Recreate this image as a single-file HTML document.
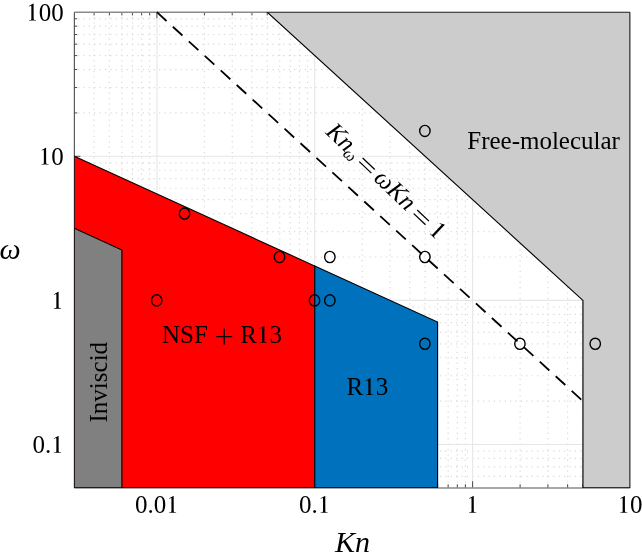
<!DOCTYPE html>
<html><head><meta charset="utf-8"><style>
html,body{margin:0;padding:0;background:#fff;font-family:"Liberation Serif",serif;}
svg{display:block;will-change:transform;}
</style></head><body>
<svg width="642" height="560" viewBox="0 0 642 560" font-family="Liberation Serif">
<defs><path id="one" d="M296 676L282 676L111 578L111 562L136 572Q176 588 192 588Q206 588 206 560L206 70Q206 28 176 24L111 20L111 0L394 0L394 20L330 24Q298 28 298 70Z"/></defs>
<rect width="642" height="560" fill="#fff"/>
<g stroke="#d8d8d8" stroke-width="1.2" stroke-dasharray="1.2 4.2"><line x1="94.09" y1="12.20" x2="94.09" y2="487.88" stroke-dashoffset="0.6"/><line x1="109.38" y1="12.20" x2="109.38" y2="487.88" stroke-dashoffset="0.6"/><line x1="121.88" y1="12.20" x2="121.88" y2="487.88" stroke-dashoffset="0.6"/><line x1="132.45" y1="12.20" x2="132.45" y2="487.88" stroke-dashoffset="0.6"/><line x1="141.60" y1="12.20" x2="141.60" y2="487.88" stroke-dashoffset="0.6"/><line x1="149.68" y1="12.20" x2="149.68" y2="487.88" stroke-dashoffset="0.6"/><line x1="204.42" y1="12.20" x2="204.42" y2="487.88" stroke-dashoffset="0.6"/><line x1="232.21" y1="12.20" x2="232.21" y2="487.88" stroke-dashoffset="0.6"/><line x1="251.94" y1="12.20" x2="251.94" y2="487.88" stroke-dashoffset="0.6"/><line x1="267.23" y1="12.20" x2="267.23" y2="487.88" stroke-dashoffset="0.6"/><line x1="279.73" y1="12.20" x2="279.73" y2="487.88" stroke-dashoffset="0.6"/><line x1="290.30" y1="12.20" x2="290.30" y2="487.88" stroke-dashoffset="0.6"/><line x1="299.45" y1="12.20" x2="299.45" y2="487.88" stroke-dashoffset="0.6"/><line x1="307.53" y1="12.20" x2="307.53" y2="487.88" stroke-dashoffset="0.6"/><line x1="362.27" y1="12.20" x2="362.27" y2="487.88" stroke-dashoffset="0.6"/><line x1="390.06" y1="12.20" x2="390.06" y2="487.88" stroke-dashoffset="0.6"/><line x1="409.79" y1="12.20" x2="409.79" y2="487.88" stroke-dashoffset="0.6"/><line x1="425.08" y1="12.20" x2="425.08" y2="487.88" stroke-dashoffset="0.6"/><line x1="437.58" y1="12.20" x2="437.58" y2="487.88" stroke-dashoffset="0.6"/><line x1="448.15" y1="12.20" x2="448.15" y2="487.88" stroke-dashoffset="0.6"/><line x1="457.30" y1="12.20" x2="457.30" y2="487.88" stroke-dashoffset="0.6"/><line x1="465.38" y1="12.20" x2="465.38" y2="487.88" stroke-dashoffset="0.6"/><line x1="520.12" y1="12.20" x2="520.12" y2="487.88" stroke-dashoffset="0.6"/><line x1="547.91" y1="12.20" x2="547.91" y2="487.88" stroke-dashoffset="0.6"/><line x1="567.64" y1="12.20" x2="567.64" y2="487.88" stroke-dashoffset="0.6"/><line x1="582.93" y1="12.20" x2="582.93" y2="487.88" stroke-dashoffset="0.6"/><line x1="595.43" y1="12.20" x2="595.43" y2="487.88" stroke-dashoffset="0.6"/><line x1="606.00" y1="12.20" x2="606.00" y2="487.88" stroke-dashoffset="0.6"/><line x1="615.15" y1="12.20" x2="615.15" y2="487.88" stroke-dashoffset="0.6"/><line x1="623.23" y1="12.20" x2="623.23" y2="487.88" stroke-dashoffset="0.6"/><line x1="74.36" y1="476.47" x2="630.00" y2="476.47" stroke-dashoffset="1.7"/><line x1="74.36" y1="466.82" x2="630.00" y2="466.82" stroke-dashoffset="1.7"/><line x1="74.36" y1="458.46" x2="630.00" y2="458.46" stroke-dashoffset="1.7"/><line x1="74.36" y1="451.09" x2="630.00" y2="451.09" stroke-dashoffset="1.7"/><line x1="74.36" y1="401.12" x2="630.00" y2="401.12" stroke-dashoffset="1.7"/><line x1="74.36" y1="375.75" x2="630.00" y2="375.75" stroke-dashoffset="1.7"/><line x1="74.36" y1="357.74" x2="630.00" y2="357.74" stroke-dashoffset="1.7"/><line x1="74.36" y1="343.78" x2="630.00" y2="343.78" stroke-dashoffset="1.7"/><line x1="74.36" y1="332.37" x2="630.00" y2="332.37" stroke-dashoffset="1.7"/><line x1="74.36" y1="322.72" x2="630.00" y2="322.72" stroke-dashoffset="1.7"/><line x1="74.36" y1="314.36" x2="630.00" y2="314.36" stroke-dashoffset="1.7"/><line x1="74.36" y1="306.99" x2="630.00" y2="306.99" stroke-dashoffset="1.7"/><line x1="74.36" y1="257.02" x2="630.00" y2="257.02" stroke-dashoffset="1.7"/><line x1="74.36" y1="231.65" x2="630.00" y2="231.65" stroke-dashoffset="1.7"/><line x1="74.36" y1="213.64" x2="630.00" y2="213.64" stroke-dashoffset="1.7"/><line x1="74.36" y1="199.68" x2="630.00" y2="199.68" stroke-dashoffset="1.7"/><line x1="74.36" y1="188.27" x2="630.00" y2="188.27" stroke-dashoffset="1.7"/><line x1="74.36" y1="178.62" x2="630.00" y2="178.62" stroke-dashoffset="1.7"/><line x1="74.36" y1="170.26" x2="630.00" y2="170.26" stroke-dashoffset="1.7"/><line x1="74.36" y1="162.89" x2="630.00" y2="162.89" stroke-dashoffset="1.7"/><line x1="74.36" y1="112.92" x2="630.00" y2="112.92" stroke-dashoffset="1.7"/><line x1="74.36" y1="87.55" x2="630.00" y2="87.55" stroke-dashoffset="1.7"/><line x1="74.36" y1="69.54" x2="630.00" y2="69.54" stroke-dashoffset="1.7"/><line x1="74.36" y1="55.58" x2="630.00" y2="55.58" stroke-dashoffset="1.7"/><line x1="74.36" y1="44.17" x2="630.00" y2="44.17" stroke-dashoffset="1.7"/><line x1="74.36" y1="34.52" x2="630.00" y2="34.52" stroke-dashoffset="1.7"/><line x1="74.36" y1="26.16" x2="630.00" y2="26.16" stroke-dashoffset="1.7"/><line x1="74.36" y1="18.79" x2="630.00" y2="18.79" stroke-dashoffset="1.7"/></g>
<g stroke="#e6e6e6" stroke-width="1.1"><line x1="156.90" y1="12.20" x2="156.90" y2="487.88"/><line x1="314.75" y1="12.20" x2="314.75" y2="487.88"/><line x1="472.60" y1="12.20" x2="472.60" y2="487.88"/><line x1="74.36" y1="444.50" x2="630.00" y2="444.50"/><line x1="74.36" y1="300.40" x2="630.00" y2="300.40"/><line x1="74.36" y1="156.30" x2="630.00" y2="156.30"/></g>
<g stroke="#333" stroke-width="0.9"><line x1="94.09" y1="12.20" x2="94.09" y2="15.40"/><line x1="94.09" y1="487.88" x2="94.09" y2="484.28"/><line x1="109.38" y1="12.20" x2="109.38" y2="15.40"/><line x1="109.38" y1="487.88" x2="109.38" y2="484.28"/><line x1="121.88" y1="12.20" x2="121.88" y2="15.40"/><line x1="121.88" y1="487.88" x2="121.88" y2="484.28"/><line x1="132.45" y1="12.20" x2="132.45" y2="15.40"/><line x1="132.45" y1="487.88" x2="132.45" y2="484.28"/><line x1="141.60" y1="12.20" x2="141.60" y2="15.40"/><line x1="141.60" y1="487.88" x2="141.60" y2="484.28"/><line x1="149.68" y1="12.20" x2="149.68" y2="15.40"/><line x1="149.68" y1="487.88" x2="149.68" y2="484.28"/><line x1="204.42" y1="12.20" x2="204.42" y2="15.40"/><line x1="204.42" y1="487.88" x2="204.42" y2="484.28"/><line x1="232.21" y1="12.20" x2="232.21" y2="15.40"/><line x1="232.21" y1="487.88" x2="232.21" y2="484.28"/><line x1="251.94" y1="12.20" x2="251.94" y2="15.40"/><line x1="251.94" y1="487.88" x2="251.94" y2="484.28"/><line x1="267.23" y1="12.20" x2="267.23" y2="15.40"/><line x1="267.23" y1="487.88" x2="267.23" y2="484.28"/><line x1="279.73" y1="12.20" x2="279.73" y2="15.40"/><line x1="279.73" y1="487.88" x2="279.73" y2="484.28"/><line x1="290.30" y1="12.20" x2="290.30" y2="15.40"/><line x1="290.30" y1="487.88" x2="290.30" y2="484.28"/><line x1="299.45" y1="12.20" x2="299.45" y2="15.40"/><line x1="299.45" y1="487.88" x2="299.45" y2="484.28"/><line x1="307.53" y1="12.20" x2="307.53" y2="15.40"/><line x1="307.53" y1="487.88" x2="307.53" y2="484.28"/><line x1="362.27" y1="12.20" x2="362.27" y2="15.40"/><line x1="362.27" y1="487.88" x2="362.27" y2="484.28"/><line x1="390.06" y1="12.20" x2="390.06" y2="15.40"/><line x1="390.06" y1="487.88" x2="390.06" y2="484.28"/><line x1="409.79" y1="12.20" x2="409.79" y2="15.40"/><line x1="409.79" y1="487.88" x2="409.79" y2="484.28"/><line x1="425.08" y1="12.20" x2="425.08" y2="15.40"/><line x1="425.08" y1="487.88" x2="425.08" y2="484.28"/><line x1="437.58" y1="12.20" x2="437.58" y2="15.40"/><line x1="437.58" y1="487.88" x2="437.58" y2="484.28"/><line x1="448.15" y1="12.20" x2="448.15" y2="15.40"/><line x1="448.15" y1="487.88" x2="448.15" y2="484.28"/><line x1="457.30" y1="12.20" x2="457.30" y2="15.40"/><line x1="457.30" y1="487.88" x2="457.30" y2="484.28"/><line x1="465.38" y1="12.20" x2="465.38" y2="15.40"/><line x1="465.38" y1="487.88" x2="465.38" y2="484.28"/><line x1="520.12" y1="12.20" x2="520.12" y2="15.40"/><line x1="520.12" y1="487.88" x2="520.12" y2="484.28"/><line x1="547.91" y1="12.20" x2="547.91" y2="15.40"/><line x1="547.91" y1="487.88" x2="547.91" y2="484.28"/><line x1="567.64" y1="12.20" x2="567.64" y2="15.40"/><line x1="567.64" y1="487.88" x2="567.64" y2="484.28"/><line x1="582.93" y1="12.20" x2="582.93" y2="15.40"/><line x1="582.93" y1="487.88" x2="582.93" y2="484.28"/><line x1="595.43" y1="12.20" x2="595.43" y2="15.40"/><line x1="595.43" y1="487.88" x2="595.43" y2="484.28"/><line x1="606.00" y1="12.20" x2="606.00" y2="15.40"/><line x1="606.00" y1="487.88" x2="606.00" y2="484.28"/><line x1="615.15" y1="12.20" x2="615.15" y2="15.40"/><line x1="615.15" y1="487.88" x2="615.15" y2="484.28"/><line x1="623.23" y1="12.20" x2="623.23" y2="15.40"/><line x1="623.23" y1="487.88" x2="623.23" y2="484.28"/><line x1="156.90" y1="12.20" x2="156.90" y2="18.20"/><line x1="156.90" y1="487.88" x2="156.90" y2="481.28"/><line x1="314.75" y1="12.20" x2="314.75" y2="18.20"/><line x1="314.75" y1="487.88" x2="314.75" y2="481.28"/><line x1="472.60" y1="12.20" x2="472.60" y2="18.20"/><line x1="472.60" y1="487.88" x2="472.60" y2="481.28"/><line x1="74.36" y1="476.47" x2="77.16" y2="476.47"/><line x1="630.00" y1="476.47" x2="627.20" y2="476.47"/><line x1="74.36" y1="466.82" x2="77.16" y2="466.82"/><line x1="630.00" y1="466.82" x2="627.20" y2="466.82"/><line x1="74.36" y1="458.46" x2="77.16" y2="458.46"/><line x1="630.00" y1="458.46" x2="627.20" y2="458.46"/><line x1="74.36" y1="451.09" x2="77.16" y2="451.09"/><line x1="630.00" y1="451.09" x2="627.20" y2="451.09"/><line x1="74.36" y1="401.12" x2="77.16" y2="401.12"/><line x1="630.00" y1="401.12" x2="627.20" y2="401.12"/><line x1="74.36" y1="375.75" x2="77.16" y2="375.75"/><line x1="630.00" y1="375.75" x2="627.20" y2="375.75"/><line x1="74.36" y1="357.74" x2="77.16" y2="357.74"/><line x1="630.00" y1="357.74" x2="627.20" y2="357.74"/><line x1="74.36" y1="343.78" x2="77.16" y2="343.78"/><line x1="630.00" y1="343.78" x2="627.20" y2="343.78"/><line x1="74.36" y1="332.37" x2="77.16" y2="332.37"/><line x1="630.00" y1="332.37" x2="627.20" y2="332.37"/><line x1="74.36" y1="322.72" x2="77.16" y2="322.72"/><line x1="630.00" y1="322.72" x2="627.20" y2="322.72"/><line x1="74.36" y1="314.36" x2="77.16" y2="314.36"/><line x1="630.00" y1="314.36" x2="627.20" y2="314.36"/><line x1="74.36" y1="306.99" x2="77.16" y2="306.99"/><line x1="630.00" y1="306.99" x2="627.20" y2="306.99"/><line x1="74.36" y1="257.02" x2="77.16" y2="257.02"/><line x1="630.00" y1="257.02" x2="627.20" y2="257.02"/><line x1="74.36" y1="231.65" x2="77.16" y2="231.65"/><line x1="630.00" y1="231.65" x2="627.20" y2="231.65"/><line x1="74.36" y1="213.64" x2="77.16" y2="213.64"/><line x1="630.00" y1="213.64" x2="627.20" y2="213.64"/><line x1="74.36" y1="199.68" x2="77.16" y2="199.68"/><line x1="630.00" y1="199.68" x2="627.20" y2="199.68"/><line x1="74.36" y1="188.27" x2="77.16" y2="188.27"/><line x1="630.00" y1="188.27" x2="627.20" y2="188.27"/><line x1="74.36" y1="178.62" x2="77.16" y2="178.62"/><line x1="630.00" y1="178.62" x2="627.20" y2="178.62"/><line x1="74.36" y1="170.26" x2="77.16" y2="170.26"/><line x1="630.00" y1="170.26" x2="627.20" y2="170.26"/><line x1="74.36" y1="162.89" x2="77.16" y2="162.89"/><line x1="630.00" y1="162.89" x2="627.20" y2="162.89"/><line x1="74.36" y1="112.92" x2="77.16" y2="112.92"/><line x1="630.00" y1="112.92" x2="627.20" y2="112.92"/><line x1="74.36" y1="87.55" x2="77.16" y2="87.55"/><line x1="630.00" y1="87.55" x2="627.20" y2="87.55"/><line x1="74.36" y1="69.54" x2="77.16" y2="69.54"/><line x1="630.00" y1="69.54" x2="627.20" y2="69.54"/><line x1="74.36" y1="55.58" x2="77.16" y2="55.58"/><line x1="630.00" y1="55.58" x2="627.20" y2="55.58"/><line x1="74.36" y1="44.17" x2="77.16" y2="44.17"/><line x1="630.00" y1="44.17" x2="627.20" y2="44.17"/><line x1="74.36" y1="34.52" x2="77.16" y2="34.52"/><line x1="630.00" y1="34.52" x2="627.20" y2="34.52"/><line x1="74.36" y1="26.16" x2="77.16" y2="26.16"/><line x1="630.00" y1="26.16" x2="627.20" y2="26.16"/><line x1="74.36" y1="18.79" x2="77.16" y2="18.79"/><line x1="630.00" y1="18.79" x2="627.20" y2="18.79"/><line x1="74.36" y1="444.50" x2="80.36" y2="444.50"/><line x1="630.00" y1="444.50" x2="624.00" y2="444.50"/><line x1="74.36" y1="300.40" x2="80.36" y2="300.40"/><line x1="630.00" y1="300.40" x2="624.00" y2="300.40"/><line x1="74.36" y1="156.30" x2="80.36" y2="156.30"/><line x1="630.00" y1="156.30" x2="624.00" y2="156.30"/></g>
<g fill="none" stroke-width="1"><path d="M74.36 12.20H630.00" stroke="#8a8a8a" stroke-width="1.5"/><path d="M74.36 487.88H630.00" stroke="#8a8a8a" stroke-width="1.5"/><path d="M74.36 12.20V487.88" stroke="#4a4a4a" stroke-width="1.1"/><path d="M630.00 12.20V487.88" stroke="#4a4a4a" stroke-width="1.1"/></g>
<clipPath id="ax"><rect x="74.36" y="12.20" width="555.64" height="475.68"/></clipPath><g clip-path="url(#ax)">
<polygon points="267.23,12.20 630.00,12.20 630.00,487.88 582.93,487.88 582.93,300.40" fill="#cccccc" stroke="#000" stroke-width="1.15" stroke-linejoin="miter"/>
<polygon points="74.36,156.30 314.75,266.02 314.75,487.88 74.36,487.88" fill="#ff0000" stroke="#000" stroke-width="1.15" stroke-linejoin="miter"/>
<polygon points="314.75,266.02 437.58,322.09 437.58,487.88 314.75,487.88" fill="#0072bd" stroke="#000" stroke-width="1.15" stroke-linejoin="miter"/>
<polygon points="74.36,228.35 121.88,250.04 121.88,487.88 74.36,487.88" fill="#808080" stroke="#000" stroke-width="1.15" stroke-linejoin="miter"/>
</g>
<line x1="156.90" y1="12.20" x2="582.93" y2="401.12" stroke="#000" stroke-width="1.8" stroke-dasharray="13 8.6"/>
<g fill="none" stroke="#000" stroke-width="1.4"><ellipse cx="184.50" cy="213.64" rx="5.2" ry="5.6"/><ellipse cx="279.53" cy="257.02" rx="5.2" ry="5.6"/><ellipse cx="156.70" cy="300.40" rx="5.2" ry="5.6"/><ellipse cx="314.55" cy="300.40" rx="5.2" ry="5.6"/><ellipse cx="329.85" cy="300.40" rx="5.2" ry="5.6"/><ellipse cx="329.85" cy="257.02" rx="5.2" ry="5.6"/><ellipse cx="424.88" cy="130.93" rx="5.2" ry="5.6"/><ellipse cx="424.88" cy="257.02" rx="5.2" ry="5.6"/><ellipse cx="424.88" cy="343.78" rx="5.2" ry="5.6"/><ellipse cx="519.92" cy="343.78" rx="5.2" ry="5.6"/><ellipse cx="595.23" cy="343.78" rx="5.2" ry="5.6"/></g>
<g fill="#000"><use href="#one" transform="translate(26.20,20.50) scale(0.0250,-0.0250)"/><text x="38.70" y="20.50" font-size="25">00</text><use href="#one" transform="translate(38.70,164.60) scale(0.0250,-0.0250)"/><text x="51.20" y="164.60" font-size="25">0</text><use href="#one" transform="translate(51.20,308.70) scale(0.0250,-0.0250)"/><text x="32.45" y="452.80" font-size="25">0.</text><use href="#one" transform="translate(51.20,452.80) scale(0.0250,-0.0250)"/><text x="135.03" y="512.80" font-size="25">0.0</text><use href="#one" transform="translate(166.28,512.80) scale(0.0250,-0.0250)"/><text x="299.12" y="512.80" font-size="25">0.</text><use href="#one" transform="translate(317.88,512.80) scale(0.0250,-0.0250)"/><use href="#one" transform="translate(466.35,512.80) scale(0.0250,-0.0250)"/><use href="#one" transform="translate(617.50,512.80) scale(0.0250,-0.0250)"/><text x="630.00" y="512.80" font-size="25">0</text><text x="352.4" y="551.5" text-anchor="middle" font-size="30" font-style="italic">Kn</text><text x="10" y="258.8" text-anchor="middle" font-size="30" font-style="italic">ω</text><text x="543.6" y="149.1" text-anchor="middle" font-size="25">Free-molecular</text><text x="162" y="342.8" font-size="25">NSF</text><text x="240.3" y="342.8" font-size="25">R</text><use href="#one" transform="translate(256.97,342.80) scale(0.0250,-0.0250)"/><text x="269.47" y="342.80" font-size="25">3</text><path d="M216.2 336.6H232.2M224.2 328.6V344.6" stroke="#000" stroke-width="1.3" fill="none"/><text x="346.5" y="395" font-size="25">R</text><use href="#one" transform="translate(363.17,395.00) scale(0.0250,-0.0250)"/><text x="375.67" y="395.00" font-size="25">3</text><text transform="translate(107,382.2) rotate(-90)" text-anchor="middle" font-size="25">Inviscid</text><g transform="translate(323.8,133.2) rotate(43.5)"><text x="0.5" y="-0.9" font-size="25" font-style="italic">Kn</text><text x="28" y="3.0" font-size="16.5" font-style="italic">ω</text><path d="M45.3 -8.7H62M45.3 -3.8H62" stroke="#000" stroke-width="1.3"/><text x="67.4" y="0" font-size="25" font-style="italic">ωKn</text><path d="M120.6 -8.6H136.8M120.6 -3.6H136.8" stroke="#000" stroke-width="1.3"/><use href="#one" transform="translate(143.4,0) scale(0.025,-0.025)"/></g></g>
</svg>
</body></html>
